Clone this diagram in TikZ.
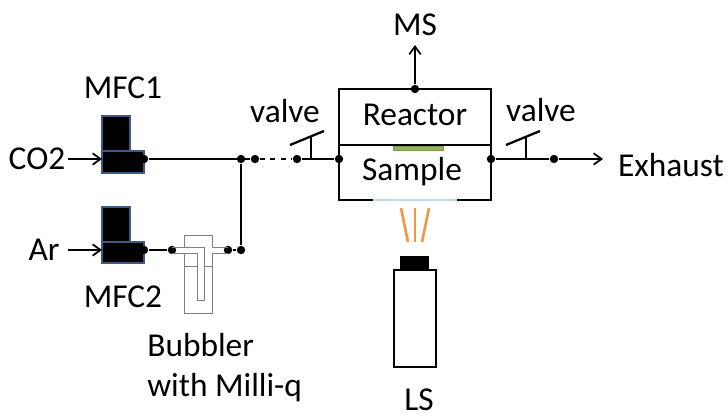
\documentclass[tikz,border=0pt]{standalone}
\usepackage{fontspec}
\setmainfont{Carlito}
\usetikzlibrary{positioning, calc, arrows.meta}
\definecolor{mfcblue}{RGB}{60,90,130}
\definecolor{samplegreen}{RGB}{125,155,75}
\definecolor{windowblue}{RGB}{190,215,240}
\definecolor{rayorange}{RGB}{240,150,70}
\tikzstyle{Arrow} = [line width=1pt, -{Straight Barb[length=4.5pt,width=6.5pt]}]
\tikzstyle{Pipe} = [line width=1.3pt]
\begin{document}
\begin{tikzpicture}[x=0.02cm, y=-0.02cm,
				label/.style = {font=\fontsize{19}{23}\selectfont, inner sep=0pt},
				joint/.style = {circle, fill=black, inner sep=0pt, minimum size=4.8pt},
				mfc/.style = {draw=mfcblue, fill=black, line width=0.9pt},
				tube/.style = {draw=black!50, line width=0.55pt},
			]
			\useasboundingbox (0,0) rectangle (728,418);

			% mass flow controllers
			\draw[mfc] (102,116) -- (130,116) -- (130,151) -- (144,151) -- (144,173) -- (102,173) -- cycle;
			\draw[mfc] (102,207) -- (130,207) -- (130,242) -- (144,242) -- (144,263) -- (102,263) -- cycle;
			\draw[mfcblue, line width=0.9pt] (102,151) -- (130,151);
			\draw[mfcblue, line width=0.9pt] (102,242) -- (130,242);

			% gas lines
			\node[label](CO2) at (37,159){CO2};
			\node[label](Ar) at (44,250){Ar};
			\node[label](MFC1) at (123,88){MFC1};
			\node[label](MFC2) at (123,297){MFC2};
			\node[joint](J1) at (144,159){};
			\node[joint](J2) at (241,159){};
			\node[joint](J3) at (255,159){};
			\node[joint](J4) at (297,159){};
			\node[joint](J5) at (339,159){};
			\node[joint](J6) at (144,250){};
			\node[joint](J7) at (172,250){};
			\node[joint](J8) at (228,250){};
			\node[joint](J9) at (241,250){};
			\coordinate (InA) at (102,159);
			\coordinate (InB) at (102,250);
			\coordinate (StartA) at (68,159);
			\coordinate (StartB) at (68,250);

			\draw[Arrow](StartA)--(InA);
			\draw[Arrow](StartB)--(InB);
			\draw[Pipe](J1)--(J3);
			\draw[Pipe, dash pattern=on 3pt off 3pt](J3)--(J4);
			\draw[Pipe](J4)--(J5);
			\draw[Pipe](J2)--(J9);
			\draw[Pipe](J6)--(J7);
			\draw[Pipe](J8)--(J9);

			% bubbler
			\draw[tube] (172,247) -- (204,247) -- (204,300) -- (197,300) -- (197,253) -- (172,253);
			\draw[tube] (184,253) -- (184,313) -- (212,313) -- (212,253) -- (228,253);
			\draw[tube] (184,247) -- (184,235) -- (212,235) -- (212,247) -- (228,247);
			\draw[tube] (184,266) -- (197,266);
			\draw[tube] (204,266) -- (212,266);
			\node[label, align=left, anchor=north west](Bubbler) at (147,333){Bubbler\\with Milli-q};

			% valves
			\node[label](ValveL) at (285,111){valve};
			\coordinate (StemL) at (311,159);
			\coordinate (TopL) at (311,137);
			\draw[Pipe](StemL)--(TopL);
			\draw[Pipe](290,145)--(324,131);
			\node[label](ValveR) at (541,110){valve};
			\coordinate (StemR) at (526,159);
			\coordinate (TopR) at (526,137);
			\draw[Pipe](StemR)--(TopR);
			\draw[Pipe](506,145)--(540,131);

			% reactor
			\node[label](Reactor) at (415,115){Reactor};
			\node[label](Sample) at (412,172){Sample};
			\node[joint](R1) at (415,89){};
			\node[joint](R2) at (491,159){};
			\node[joint](R3) at (554,159){};
			\coordinate (Win1) at (373,200);
			\coordinate (Win2) at (457,200);
			\draw[Pipe] (Win1) -- (339,200) -- (339,89) -- (491,89) -- (491,200) -- (Win2);
			\draw[Pipe] (339,145) -- (491,145);
			\draw[windowblue, line width=0.6pt] (Win1) -- (Win2);
			\draw[draw=samplegreen, fill=samplegreen!80!white, line width=0.5pt] (393,146) rectangle (443,150);

			\node[label](MS) at (415,25){MS};
			\node[label](Exhaust) at (671,165){Exhaust};
			\coordinate (MSend) at (415,45);
			\coordinate (Exend) at (603,159);
			\draw[Arrow](R1)--(MSend);
			\draw[Pipe](R2)--(R3);
			\draw[Arrow](R3)--(Exend);

			% light source
			\draw[rayorange, line width=1.5pt] (401,208) -- (408,242);
			\draw[rayorange, line width=1.5pt] (415,208) -- (415,242);
			\draw[rayorange, line width=1.5pt] (429,208) -- (422,242);
			\node[fill=black, inner sep=0pt, minimum width=16.4pt, minimum height=8pt](Cap) at (414.5,263){};
			\draw[Pipe] (394,270) rectangle (436,367);
			\node[label](LS) at (419,400){LS};
		\end{tikzpicture}
\end{document}
